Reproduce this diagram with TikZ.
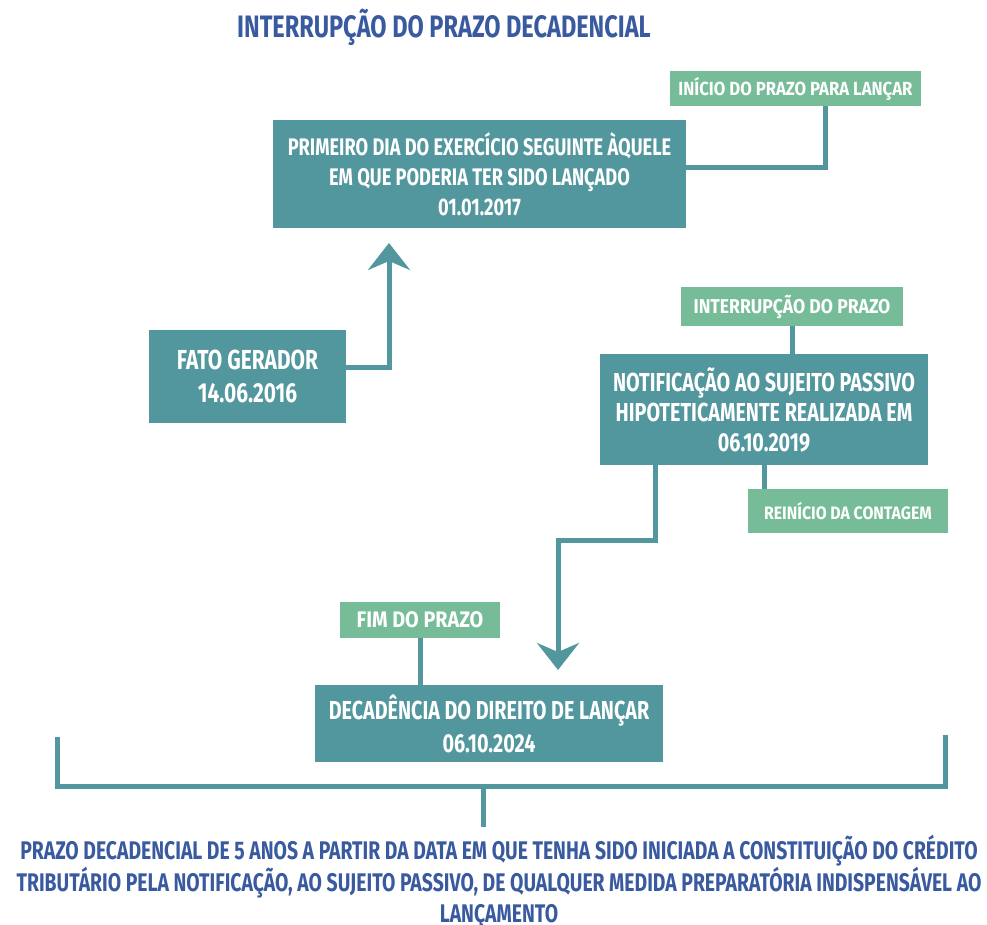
\documentclass[tikz,border=0pt]{standalone}
\usepackage{fontspec}
\setmainfont{Fira Sans}[FakeStretch=0.76]
\newfontfamily\tagfont{Fira Sans}[FakeStretch=0.88]
\usetikzlibrary{arrows.meta}
\definecolor{boxteal}{RGB}{82,150,158}
\definecolor{taggreen}{RGB}{118,188,152}
\definecolor{titleblue}{RGB}{58,90,160}

\begin{document}
\begin{tikzpicture}[x=1pt,y=-1pt,
  every node/.style={inner sep=0pt, outer sep=0pt, align=center, font=\bfseries},
  box/.style={fill=boxteal, text=white},
  tag/.style={fill=taggreen, text=white},
  link/.style={draw=boxteal, line width=5pt},
  head/.style={-{Stealth[length=27pt,width=42pt,inset=9pt]}}]
\useasboundingbox (0,0) rectangle (987,925);

\node[text=titleblue, font=\bfseries\fontsize{31}{36}\selectfont] (title) at (444,27) {INTERRUPÇÃO DO PRAZO DECADENCIAL};

\node[tag, minimum width=251pt, minimum height=35pt, font=\tagfont\bfseries\fontsize{19}{22}\selectfont] (inicio) at (795.5,88.5) {INÍCIO DO PRAZO PARA LANÇAR};
\node[box, minimum width=413pt, minimum height=108pt, font=\bfseries\fontsize{24}{30}\selectfont] (primeiro) at (479.5,174) {PRIMEIRO DIA DO EXERCÍCIO SEGUINTE ÀQUELE\\EM QUE PODERIA TER SIDO LANÇADO\\01.01.2017};
\node[box, minimum width=197pt, minimum height=93pt, font=\bfseries\fontsize{27.5}{33}\selectfont] (fato) at (247.5,376.5) {FATO GERADOR\\14.06.2016};

\node[tag, minimum width=222pt, minimum height=39pt, font=\tagfont\bfseries\fontsize{20}{24}\selectfont] (interrupcao) at (792,306.5) {INTERRUPÇÃO DO PRAZO};
\node[box, minimum width=328pt, minimum height=111pt, font=\bfseries\fontsize{26}{30}\selectfont] (notificacao) at (764,409.5) {NOTIFICAÇÃO AO SUJEITO PASSIVO\\HIPOTETICAMENTE REALIZADA EM\\06.10.2019};
\node[tag, minimum width=200pt, minimum height=44pt, font=\tagfont\bfseries\fontsize{18}{22}\selectfont] (reinicio) at (848,511) {REINÍCIO DA CONTAGEM};

\node[tag, minimum width=160pt, minimum height=36pt, font=\tagfont\bfseries\fontsize{22.5}{26}\selectfont] (fim) at (420,620) {FIM DO PRAZO};
\node[box, minimum width=348pt, minimum height=77pt, font=\bfseries\fontsize{26}{33}\selectfont] (decadencia) at (489,723.5) {DECADÊNCIA DO DIREITO DE LANÇAR\\06.10.2024};

% ligacoes
\draw[link] ([yshift=6pt]primeiro.east) -| ([xshift=30pt]inicio.south);
\coordinate (pontaA) at (389,243);
\draw[link, head] ([yshift=9pt]fato.east) -| (pontaA);
\draw[link] (interrupcao.south) -- (interrupcao.south |- notificacao.north);
\draw[link] (notificacao.south) -- (notificacao.south |- reinicio.north);
\coordinate (pontaD) at (558,670);
\draw[link, head] ([xshift=-109pt]notificacao.south) -- ++(0,75) -| (pontaD);
\draw[link] (fim.south) -- (fim.south |- decadencia.north);

% chave do prazo
\draw[link] (57,737) |- (945,786) -- (945,735);
\draw[link] (483,786) -- (483,827);
\node[text=titleblue, font=\bfseries\fontsize{25.5}{30.5}\selectfont] (prazo) at (499,882) {PRAZO DECADENCIAL DE 5 ANOS A PARTIR DA DATA EM QUE TENHA SIDO INICIADA A CONSTITUIÇÃO DO CRÉDITO\\TRIBUTÁRIO PELA NOTIFICAÇÃO, AO SUJEITO PASSIVO, DE QUALQUER MEDIDA PREPARATÓRIA INDISPENSÁVEL AO\\LANÇAMENTO};
\end{tikzpicture}
\end{document}
